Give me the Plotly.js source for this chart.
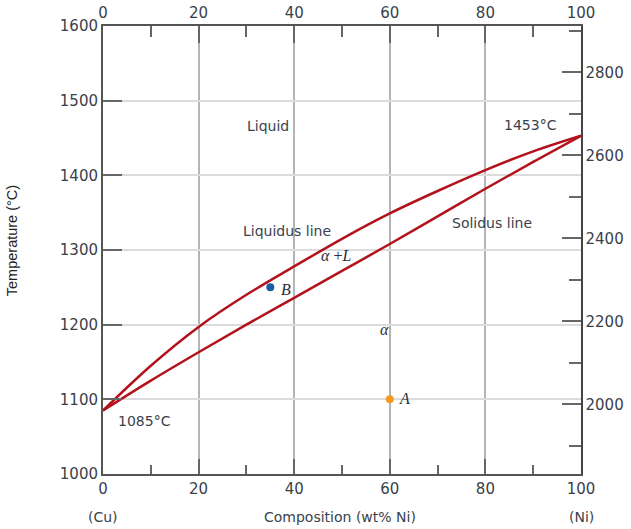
<!DOCTYPE html>
<html>
<head>
<meta charset="utf-8">
<script src="https://cdn.plot.ly/plotly-3.0.1.min.js"></script>
<style>html,body{margin:0;padding:0;background:#fff;}#chart{width:631px;height:529px;}</style>
</head>
<body>
<div id="chart"></div>
<script>
// Composition (wt% Ni)
const composition = [0, 10, 20, 30, 40, 50, 60, 70, 80, 90, 100];
// Liquidus temperatures (°C)
const liquidus = [1085, 1145, 1197, 1240, 1278, 1315, 1349, 1379, 1407, 1432, 1453];
// Solidus temperatures (°C)
const solidus = [1085, 1125, 1163, 1200, 1236, 1272, 1308, 1345, 1382, 1418, 1453];
// Marked points
const pointB = {x: [35], y: [1250]};
const pointA = {x: [60], y: [1100]};
// Axis ranges
const tempRangeC = [1000, 1600];
const tempRangeF = tempRangeC.map(c => c * 1.8 + 32);
const compTicks = [0, 20, 40, 60, 80, 100];

const red = '#b3121c';
const axisCol = '#555555';
const labelCol = '#3a3f4c';
const tickFont = {family: 'DejaVu Sans', size: 15, color: labelCol};
const annFont = {family: 'DejaVu Sans', size: 14, color: labelCol};
const serifFont = {family: 'Liberation Serif', size: 16, color: '#2a2f3a'};

const traces = [
  {x: composition, y: liquidus, mode: 'lines', line: {color: red, width: 2.5, shape: 'spline', smoothing: 1}, hoverinfo: 'skip'},
  {x: composition, y: solidus, mode: 'lines', line: {color: red, width: 2.5, shape: 'spline', smoothing: 1}, hoverinfo: 'skip'},
  {x: pointB.x, y: pointB.y, mode: 'markers', marker: {color: '#1a5ca8', size: 8}},
  {x: pointA.x, y: pointA.y, mode: 'markers', marker: {color: '#f59a23', size: 8}},
  {x: [null], y: [null], xaxis: 'x2', yaxis: 'y2', mode: 'markers', showlegend: false}
];

const layout = {
  width: 631, height: 529,
  margin: {l: 103, r: 50, t: 26, b: 55},
  paper_bgcolor: '#ffffff', plot_bgcolor: '#ffffff',
  showlegend: false,
  xaxis: {
    range: [0, 100], tickvals: compTicks, ticktext: compTicks.map(String),
    showgrid: true, gridcolor: '#b4b4b4', gridwidth: 2,
    zeroline: false, showline: true, linecolor: axisCol, linewidth: 2,
    ticks: 'inside', ticklen: 15, tickwidth: 2, tickcolor: '#666',
    minor: {dtick: 10, tick0: 0, ticks: 'inside', ticklen: 9, tickwidth: 2, tickcolor: '#666', showgrid: false},
    tickfont: tickFont, fixedrange: true
  },
  xaxis2: {
    range: [0, 100], overlaying: 'x', side: 'top', anchor: 'y',
    tickvals: compTicks, ticktext: compTicks.map(String),
    showgrid: false, zeroline: false, showline: true, linecolor: axisCol, linewidth: 2,
    ticks: 'inside', ticklen: 17, tickwidth: 2, tickcolor: '#666',
    minor: {dtick: 10, tick0: 0, ticks: 'inside', ticklen: 11, tickwidth: 2, tickcolor: '#666', showgrid: false},
    tickfont: tickFont, fixedrange: true
  },
  yaxis: {
    range: tempRangeC, dtick: 100, tick0: 1000,
    showgrid: true, gridcolor: '#dcdcdc', gridwidth: 2,
    zeroline: false, showline: true, linecolor: axisCol, linewidth: 2,
    ticks: 'inside', ticklen: 19, tickwidth: 2, tickcolor: '#666',
    tickfont: tickFont, fixedrange: true
  },
  yaxis2: {
    range: tempRangeF, overlaying: 'y', side: 'right', anchor: 'x',
    tick0: 2000, dtick: 200,
    showgrid: false, zeroline: false, showline: true, linecolor: '#444', linewidth: 1.5,
    ticks: 'inside', ticklen: 19, tickwidth: 2, tickcolor: '#666',
    minor: {dtick: 100, tick0: 2000, ticks: 'inside', ticklen: 12, tickwidth: 2, tickcolor: '#666', showgrid: false},
    tickfont: tickFont, fixedrange: true
  },
  annotations: [
    {text: 'Liquid', x: 34.6, y: 1466, showarrow: false, font: annFont},
    {text: '1453°C', x: 89.4, y: 1467, showarrow: false, font: annFont},
    {text: 'Liquidus line', x: 38.4, y: 1325.5, showarrow: false, font: annFont},
    {text: 'Solidus line', x: 81.3, y: 1336, showarrow: false, font: annFont},
    {text: '<i>α</i> +<i>L</i>', x: 48.8, y: 1292, showarrow: false, font: serifFont},
    {text: '<i>α</i>', x: 58.9, y: 1193, showarrow: false, font: serifFont},
    {text: '<i>B</i>', x: 38.3, y: 1246.5, showarrow: false, font: serifFont},
    {text: '<i>A</i>', x: 63.0, y: 1101.5, showarrow: false, font: serifFont},
    {text: '1085°C', x: 8.6, y: 1071, showarrow: false, font: annFont},
    {text: '(Cu)', xref: 'paper', yref: 'paper', x: 0, y: -0.096, xanchor: 'center', yanchor: 'middle', showarrow: false, font: annFont},
    {text: 'Composition (wt% Ni)', xref: 'paper', yref: 'paper', x: 0.496, y: -0.096, xanchor: 'center', yanchor: 'middle', showarrow: false, font: annFont},
    {text: '(Ni)', xref: 'paper', yref: 'paper', x: 1.0, y: -0.096, xanchor: 'center', yanchor: 'middle', showarrow: false, font: annFont},
    {text: 'Temperature (°C)', xref: 'paper', yref: 'paper', x: -0.19, y: 0.52, xanchor: 'center', yanchor: 'middle', textangle: -90, showarrow: false,
     font: {family: 'Liberation Sans Narrow, Liberation Sans', size: 14.5, color: '#222'}}
  ]
};

Plotly.newPlot('chart', traces, layout, {staticPlot: true, displayModeBar: false});
</script>
</body>
</html>
